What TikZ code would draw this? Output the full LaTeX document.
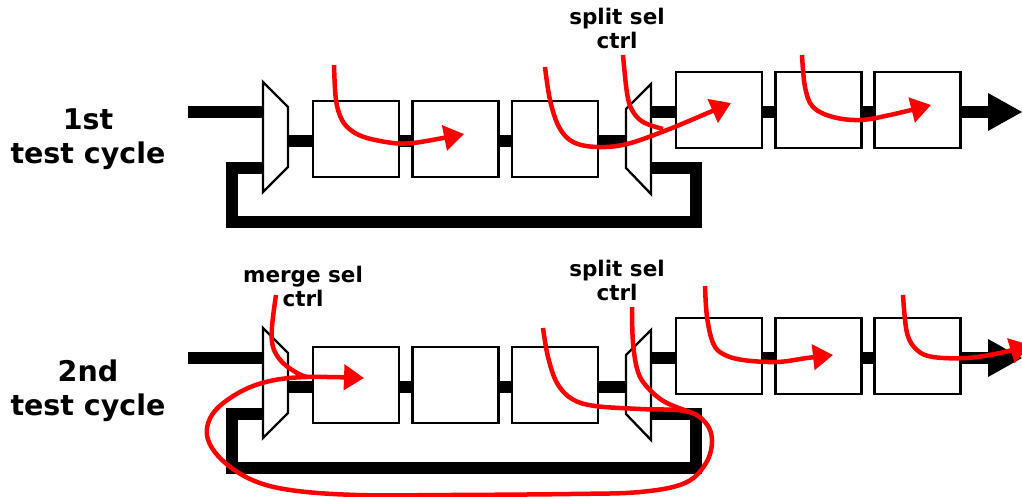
\documentclass[tikz,border=0pt]{standalone}
\usepackage{fontspec}
\setmainfont{DejaVu Sans}
\usetikzlibrary{arrows.meta}
\begin{document}
\begin{tikzpicture}[x=1pt,y=-1pt,
  bus/.style={line width=12pt, line cap=butt, line join=miter},
  reg/.style={draw, line width=2.3pt, minimum width=86pt, minimum height=76pt, inner sep=0pt, fill=white},
  muxshape/.style={draw, line width=2.3pt, fill=white, line join=miter},
  ctrl/.style={red, line width=4.5pt, line cap=butt},
  ctrlarrow/.style={ctrl, -{Triangle[length=20pt,width=25pt]}},
  lbl/.style={font=\bfseries\fontsize{21.5}{24}\selectfont, align=center, inner sep=0pt},
  cyc/.style={font=\bfseries\fontsize{28.5}{34}\selectfont, align=center, inner sep=0pt}]
\useasboundingbox (0,0) rectangle (1022,497);

\foreach \r/\d in {a/0, b/246} {
 \begin{scope}[shift={(0,\d)}]
  \coordinate (\r-in) at (188,112);
  \coordinate (\r-mi1) at (263,112);
  \coordinate (\r-mi2) at (263,168);
  \coordinate (\r-mo) at (288,141);
  \coordinate (\r-si) at (626,141);
  \coordinate (\r-so1) at (651,112);
  \coordinate (\r-so2) at (651,168);
  \coordinate (\r-fb1) at (232,222);
  \coordinate (\r-fb2) at (696,222);
  \coordinate (\r-out) at (990,112);
  \node[reg] (\r1) at (356,139) {};
  \node[reg] (\r2) at (455.5,139) {};
  \node[reg] (\r3) at (555,139) {};
  \node[reg] (\r4) at (719,110) {};
  \node[reg] (\r5) at (818.5,110) {};
  \node[reg] (\r6) at (917.5,110) {};
  \draw[bus] (\r-in) -- (\r-mi1);
  \draw[bus] (\r-mo) -- (\r-mo -| \r1.west);
  \draw[bus] (\r1.east |- \r-mo) -- (\r2.west |- \r-mo);
  \draw[bus] (\r2.east |- \r-mo) -- (\r3.west |- \r-mo);
  \draw[bus] (\r3.east |- \r-mo) -- (\r-si);
  \draw[bus] (\r-so1) -- (\r-so1 -| \r4.west);
  \draw[bus] (\r4.east |- \r-so1) -- (\r5.west |- \r-so1);
  \draw[bus] (\r5.east |- \r-so1) -- (\r6.west |- \r-so1);
  \draw[bus] (\r6.east |- \r-so1) -- (\r-out);
  \fill (988,93) -- (1022,112) -- (988,131) -- cycle;
  \draw[bus] (\r-so2) -| (\r-fb2) -- (\r-fb1) |- (\r-mi2);
  \draw[muxshape] (263,82) -- (288,107) -- (288,167) -- (263,192) -- cycle;
  \draw[muxshape] (626,109) -- (651,84) -- (651,194) -- (626,168) -- cycle;
 \end{scope}
}

\node[cyc] (cyc1) at (88,139.5) {1st\\test cycle};
\node[cyc] (cyc2) at (88,390.5) {2nd\\test cycle};
\node[lbl] (sp1) at (617,28) {split sel\\ctrl};
\node[lbl] (sp2) at (617,280.5) {split sel\\ctrl};
\node[lbl] (ms) at (303,286.5) {merge sel\\ctrl};

% red control flows, 1st cycle
\draw[ctrlarrow] plot[smooth, tension=0.6] coordinates {(334,65) (336,100) (342,120) (352,131) (367,138) (393,143) (413,143) (443,138) (464,134)};
\draw[ctrlarrow] plot[smooth, tension=0.6] coordinates {(545,67) (550,100) (559,127) (573,142) (597,147) (627,144) (667,130) (710,112) (731,103)};
\draw[ctrl] plot[smooth, tension=0.6] coordinates {(623,55) (627,93) (632,110) (643,122) (663,129)};
\draw[ctrlarrow] plot[smooth, tension=0.6] coordinates {(802,55) (805,87) (813,107) (833,117) (860,120) (890,115) (931,105)};

% red control flows, 2nd cycle
\draw[ctrl] plot[smooth, tension=0.6] coordinates {(276,295) (272,327) (273,347) (282,362) (297,373) (307,377)};
\draw[ctrlarrow] plot[smooth, tension=0.6] coordinates {(543,328) (548,357) (557,383) (572,399) (595,406) (640,409) (685,411) (705,422) (712,440) (706,463) (685,483) (640,492) (570,494) (450,495) (357,495) (290,490) (250,479) (220,458) (207,435) (214,412) (240,392) (270,381) (307,377) (364,378)};
\draw[ctrl] plot[smooth, tension=0.6] coordinates {(632,307) (633,343) (638,372) (648,388) (665,402) (690,412)};
\draw[ctrlarrow] plot[smooth, tension=0.6] coordinates {(705,286) (707,317) (713,343) (723,354) (743,360) (777,362) (807,358) (833,355)};
\draw[ctrlarrow] plot[smooth, tension=0.6] coordinates {(903,295) (907,333) (917,350) (933,357) (967,358) (1000,353) (1030,345)};
\end{tikzpicture}
\end{document}
